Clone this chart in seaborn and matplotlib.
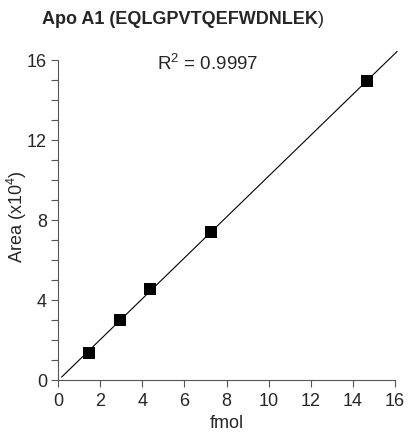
import numpy as np
import pandas as pd
import seaborn as sns
import matplotlib.pyplot as plt

# calibration points
fmol = [1.47, 2.93, 4.37, 7.27, 14.67]
area = [1.37, 3.0, 4.55, 7.38, 14.95]
r2_label = 'R$^2$ = 0.9997'
x_ticks = [0, 2, 4, 6, 8, 10, 12, 14, 16]
y_ticks = [0, 4, 8, 12, 16]

df = pd.DataFrame({'fmol': fmol, 'area': area})

sns.set_style('ticks')
plt.rcParams['font.family'] = ['Liberation Sans', 'DejaVu Sans']
plt.rcParams['mathtext.fontset'] = 'custom'
plt.rcParams['mathtext.rm'] = 'Liberation Sans'

fig = plt.figure(figsize=(4.1, 4.33), dpi=100)
ax = fig.add_axes([0.1415, 0.1224, 0.822, 0.739])

# linear fit (trend line)
slope, intercept = np.polyfit(df['fmol'], df['area'], 1)
line_x = np.array([0.17, 16.1])
fit = pd.DataFrame({'fmol': line_x, 'area': slope * line_x + intercept})
sns.lineplot(data=fit, x='fmol', y='area', color='black', linewidth=0.8, ax=ax)
for l in ax.lines:
    l.set_clip_on(False)

sns.scatterplot(data=df, x='fmol', y='area', marker='s', color='black',
                s=85, edgecolor='black', linewidth=0, ax=ax, zorder=3)

ax.set_xlim(0, 16)
ax.set_ylim(0, 16)
ax.set_xticks(x_ticks)
ax.set_yticks(y_ticks)
ax.set_yticks(np.arange(0, 17, 1), minor=True)
ax.tick_params(axis='both', which='major', labelsize=13, length=5, width=0.8,
               color='#555555', pad=3)
ax.tick_params(axis='x', which='major', pad=4)
ax.tick_params(axis='y', which='minor', length=5, width=0.8, color='#555555')
sns.despine(ax=ax)
for s in ['left', 'bottom']:
    ax.spines[s].set_color('#555555')
    ax.spines[s].set_linewidth(0.8)

ax.set_xlabel('fmol', fontsize=13)
ax.set_ylabel('Area (x10$^4$)', fontsize=13)
ax.xaxis.set_label_coords(0.5, -0.11)
ax.yaxis.set_label_coords(-0.085, 0.51)

ax.text(4.7, 15.8, r2_label, fontsize=13.5, va='center', ha='left')

title = fig.text(0.102, 0.956, 'Apo A1 (EQLGPVTQEFWDNLEK', fontsize=13,
                 fontweight='bold', va='center', ha='left')
fig.canvas.draw()
ax.annotate(')', xy=(1, 0.5), xycoords=title, fontsize=13,
            va='center', ha='left', annotation_clip=False)

fig.savefig('out.png', dpi=100)
